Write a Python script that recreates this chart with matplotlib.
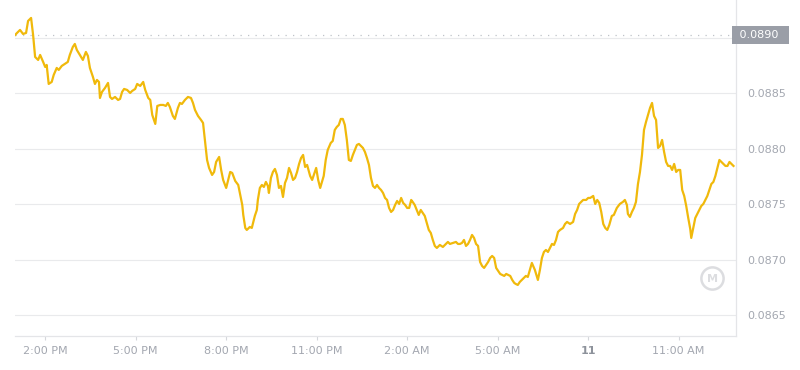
import matplotlib.pyplot as plt

# minutes since 1:00 PM (day 10) and price
minutes = [0, 4, 10, 16, 22, 26, 32, 36, 40, 46, 50, 56, 60, 63, 67, 73, 77, 83, 87, 93,
           99, 105, 109, 115, 119, 123, 129, 135, 141, 145, 149, 155, 159, 163, 167, 169, 173, 179, 185, 189,
           193, 199, 205, 209, 213, 217, 223, 229, 233, 239, 243, 249, 255, 259, 265, 269, 273, 279, 283, 289,
           295, 300, 304, 308, 314, 318, 324, 328, 332, 338, 344, 350, 354, 358, 364, 370, 374, 378, 382, 386,
           392, 396, 400, 406, 410, 414, 420, 424, 428, 432, 438, 444, 448, 452, 454, 458, 461, 467, 471, 477,
           481, 483, 487, 491, 495, 499, 503, 505, 509, 513, 517, 521, 525, 529, 533, 537, 541, 545, 549, 553,
           557, 561, 565, 569, 573, 577, 581, 587, 591, 595, 599, 603, 607, 610, 614, 618, 622, 628, 632, 636,
           640, 644, 648, 652, 656, 660, 664, 668, 672, 676, 680, 684, 688, 692, 696, 700, 704, 708, 712, 716,
           720, 724, 728, 732, 736, 740, 744, 748, 752, 756, 760, 764, 768, 772, 776, 780, 784, 788, 791, 795,
           799, 803, 807, 811, 815, 819, 823, 827, 831, 835, 839, 845, 851, 857, 861, 865, 871, 877, 881, 885,
           889, 893, 897, 901, 905, 909, 913, 917, 921, 925, 929, 933, 937, 941, 945, 949, 953, 957, 961, 965,
           969, 973, 977, 981, 985, 989, 993, 996, 1000, 1004, 1008, 1012, 1016, 1020, 1024, 1028, 1034, 1040, 1044, 1048,
           1052, 1056, 1060, 1064, 1068, 1072, 1076, 1080, 1084, 1090, 1094, 1098, 1104, 1110, 1114, 1118, 1122, 1126, 1130, 1136,
           1140, 1144, 1150, 1154, 1158, 1162, 1166, 1170, 1174, 1178, 1182, 1187, 1191, 1197, 1203, 1209, 1213, 1217, 1219, 1223,
           1227, 1231, 1235, 1239, 1243, 1247, 1251, 1255, 1259, 1263, 1267, 1271, 1275, 1279, 1283, 1287, 1291, 1295, 1299, 1303,
           1307, 1311, 1315, 1319, 1323, 1327, 1331, 1335, 1339, 1343, 1345, 1349, 1353, 1357, 1361, 1365, 1369, 1373, 1377, 1381,
           1385, 1389, 1393, 1397, 1401, 1405, 1409, 1413, 1417, 1421, 1425, 1429]

prices = [0.089022, 0.089041, 0.089068, 0.089032, 0.089041, 0.089149, 0.089176, 0.089023, 0.088825, 0.088798,
          0.088843, 0.088780, 0.088735, 0.088753, 0.088582, 0.088600, 0.088663, 0.088726, 0.088708, 0.088744,
          0.088762, 0.088780, 0.088843, 0.088915, 0.088942, 0.088888, 0.088843, 0.088798, 0.088870, 0.088834,
          0.088726, 0.088645, 0.088582, 0.088618, 0.088600, 0.088456, 0.088510, 0.088546, 0.088591, 0.088465,
          0.088447, 0.088465, 0.088438, 0.088447, 0.088510, 0.088537, 0.088528, 0.088501, 0.088519, 0.088537,
          0.088582, 0.088564, 0.088600, 0.088528, 0.088456, 0.088438, 0.088303, 0.088222, 0.088384, 0.088393,
          0.088393, 0.088384, 0.088411, 0.088375, 0.088294, 0.088267, 0.088366, 0.088411, 0.088402, 0.088438,
          0.088465, 0.088456, 0.088411, 0.088348, 0.088294, 0.088258, 0.088231, 0.088060, 0.087898, 0.087826,
          0.087763, 0.087790, 0.087880, 0.087925, 0.087808, 0.087718, 0.087646, 0.087718, 0.087790, 0.087781,
          0.087709, 0.087673, 0.087583, 0.087493, 0.087403, 0.087286, 0.087268, 0.087295, 0.087286, 0.087394,
          0.087448, 0.087538, 0.087646, 0.087673, 0.087655, 0.087700, 0.087664, 0.087601, 0.087736, 0.087790,
          0.087817, 0.087763, 0.087646, 0.087664, 0.087565, 0.087691, 0.087736, 0.087826, 0.087781, 0.087718,
          0.087736, 0.087790, 0.087862, 0.087916, 0.087943, 0.087835, 0.087853, 0.087754, 0.087718, 0.087772,
          0.087826, 0.087718, 0.087646, 0.087691, 0.087754, 0.087898, 0.087988, 0.088051, 0.088069, 0.088168,
          0.088195, 0.088213, 0.088267, 0.088267, 0.088213, 0.088078, 0.087898, 0.087889, 0.087943, 0.087988,
          0.088033, 0.088042, 0.088024, 0.088006, 0.087970, 0.087916, 0.087853, 0.087736, 0.087664, 0.087646,
          0.087673, 0.087646, 0.087628, 0.087601, 0.087556, 0.087538, 0.087466, 0.087430, 0.087448, 0.087493,
          0.087529, 0.087502, 0.087556, 0.087511, 0.087493, 0.087466, 0.087466, 0.087538, 0.087520, 0.087493,
          0.087448, 0.087403, 0.087448, 0.087421, 0.087394, 0.087331, 0.087268, 0.087241, 0.087178, 0.087124,
          0.087106, 0.087133, 0.087115, 0.087142, 0.087160, 0.087142, 0.087151, 0.087160, 0.087142, 0.087142,
          0.087151, 0.087178, 0.087124, 0.087142, 0.087178, 0.087223, 0.087196, 0.087142, 0.087124, 0.086980,
          0.086944, 0.086926, 0.086953, 0.086980, 0.087016, 0.087034, 0.087016, 0.086926, 0.086899, 0.086872,
          0.086863, 0.086854, 0.086872, 0.086863, 0.086854, 0.086818, 0.086791, 0.086782, 0.086773, 0.086800,
          0.086818, 0.086836, 0.086854, 0.086845, 0.086908, 0.086971, 0.086908, 0.086818, 0.086908, 0.087016,
          0.087070, 0.087088, 0.087070, 0.087106, 0.087142, 0.087133, 0.087178, 0.087250, 0.087268, 0.087286,
          0.087322, 0.087340, 0.087322, 0.087340, 0.087412, 0.087448, 0.087502, 0.087520, 0.087538, 0.087538,
          0.087556, 0.087556, 0.087574, 0.087502, 0.087538, 0.087511, 0.087430, 0.087322, 0.087286, 0.087268,
          0.087313, 0.087394, 0.087403, 0.087466, 0.087502, 0.087520, 0.087538, 0.087493, 0.087412, 0.087385,
          0.087430, 0.087466, 0.087520, 0.087682, 0.087790, 0.087943, 0.088168, 0.088240, 0.088303, 0.088366,
          0.088411, 0.088294, 0.088258, 0.088006, 0.088024, 0.088078, 0.087970, 0.087880, 0.087844, 0.087844,
          0.087808, 0.087862, 0.087790, 0.087808, 0.087808, 0.087628, 0.087574, 0.087484, 0.087376, 0.087277,
          0.087196, 0.087286, 0.087376, 0.087412, 0.087448, 0.087484, 0.087502, 0.087538, 0.087574, 0.087628,
          0.087682, 0.087700, 0.087754, 0.087826, 0.087898, 0.087880, 0.087862, 0.087844, 0.087844, 0.087880,
          0.087862, 0.087844]

tick_minutes = [60, 240, 420, 600, 780, 960, 1140, 1320]
tick_labels = ['2:00 PM', '5:00 PM', '8:00 PM', '11:00 PM', '2:00 AM', '5:00 AM', '11', '11:00 AM']
price_ticks = [0.0865, 0.0870, 0.0875, 0.0880, 0.0885, 0.0890]
price_labels = ['0.0865', '0.0870', '0.0875', '0.0880', '0.0885', '']
open_price = 0.089022

line_color = '#f0b90b'
grid_color = '#e9eaec'
text_color = '#a3a7b0'

fig = plt.figure(figsize=(8, 3.7), dpi=100)
ax = fig.add_axes([15 / 800, 34 / 370, 721 / 800, 336 / 370])

ax.plot(minutes, prices, color=line_color, linewidth=1.6, solid_joinstyle='round', zorder=3)
ax.axhline(open_price, color='#bfc2c8', linestyle=(0, (1, 5)), linewidth=0.9, zorder=2)

ax.set_xlim(0, 1434)
ax.set_ylim(0.0863135, 0.0893375)

ax.yaxis.tick_right()
ax.set_yticks(price_ticks)
ax.set_yticklabels(price_labels)
ax.tick_params(axis='y', length=0, pad=8, labelsize=8, labelcolor=text_color)
ax.grid(axis='y', color=grid_color, linewidth=0.8)
ax.set_axisbelow(True)

ax.set_xticks(tick_minutes)
ax.set_xticklabels(tick_labels)
ax.tick_params(axis='x', length=3, width=0.8, color='#d5d7db', pad=4, labelsize=8, labelcolor=text_color)
for lbl in ax.get_xticklabels():
    if lbl.get_text() == '11':
        lbl.set_fontweight('bold')
        lbl.set_color('#8d929b')

for side in ['left', 'top']:
    ax.spines[side].set_visible(False)
for side in ['right', 'bottom']:
    ax.spines[side].set_color('#e4e5e8')
    ax.spines[side].set_linewidth(0.9)

# current price box on the right
ax.text(1.0, open_price, ' 0.0890  ', transform=ax.get_yaxis_transform(), ha='left', va='center',
        fontsize=8, color='white',
        bbox=dict(boxstyle='square,pad=0.35', facecolor='#9a9ea7', edgecolor='none'))

# watermark logo
ax.plot([0.967], [0.173], marker='o', markersize=16, markerfacecolor='none',
        markeredgecolor='#dcdde0', markeredgewidth=1.8, transform=ax.transAxes, zorder=1)
ax.text(0.967, 0.170, 'M', transform=ax.transAxes, ha='center', va='center', fontsize=8,
        color='#dcdde0', fontweight='bold', zorder=1)

fig.savefig('out.png', dpi=100, facecolor='white')
